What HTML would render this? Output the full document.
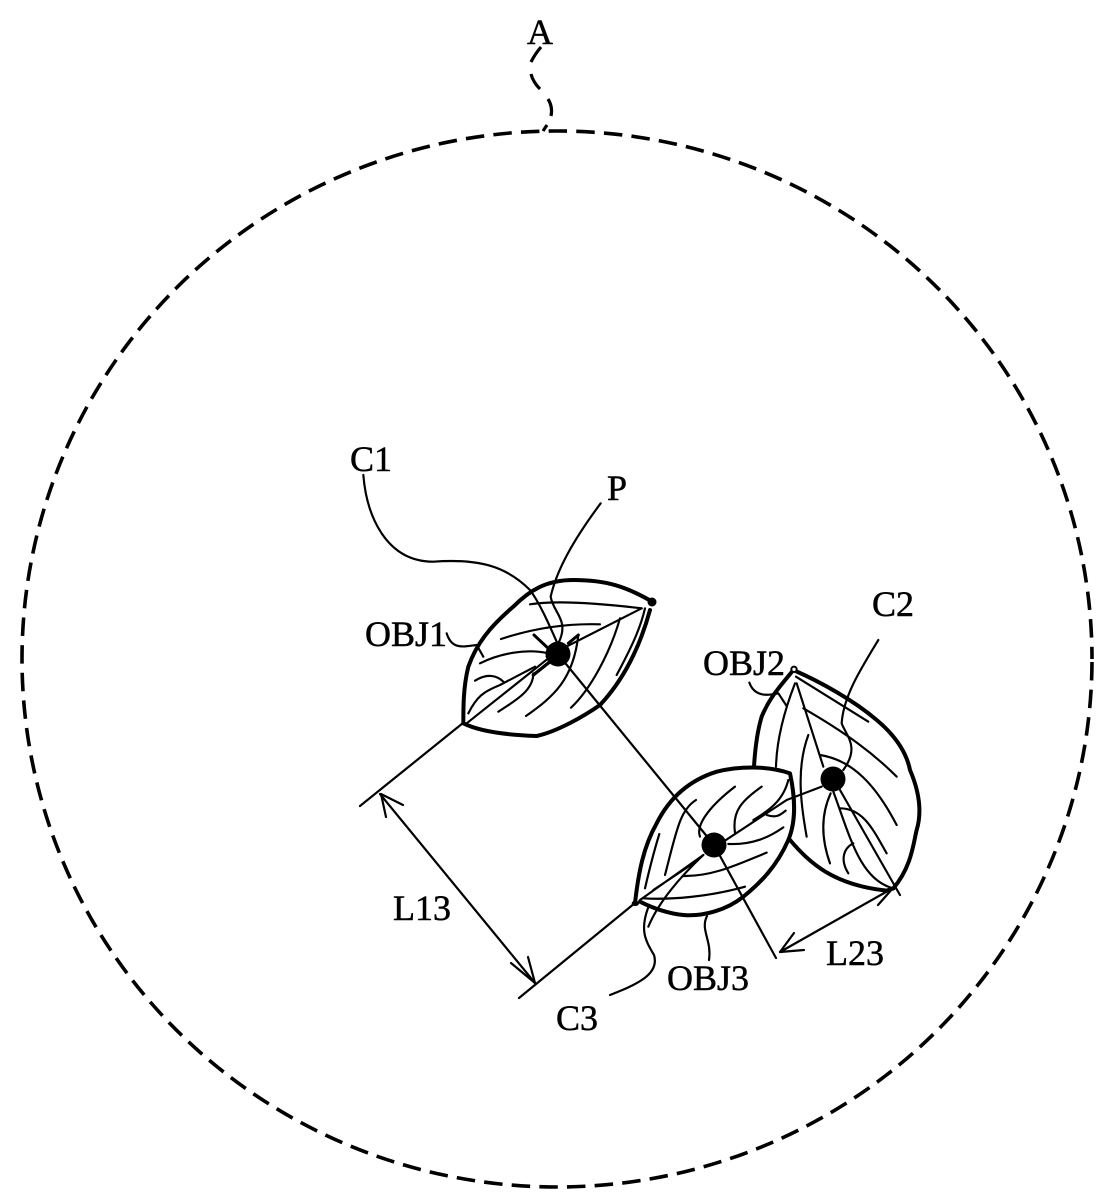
<!DOCTYPE html>
<html>
<head>
<meta charset="utf-8">
<style>
html,body{margin:0;padding:0;background:#fff;width:1112px;height:1200px;overflow:hidden}
svg{display:block}
text{font-family:"Liberation Serif",serif;font-size:36px;fill:#000;stroke:#000;stroke-width:.5;text-anchor:middle}
.v{fill:none;stroke:#000;stroke-width:6.5;stroke-linecap:round;stroke-linejoin:round}
.o{fill:none;stroke:#000;stroke-width:12;stroke-linecap:round;stroke-linejoin:round}
.l{fill:none;stroke:#000;stroke-width:2.2;stroke-linecap:round;stroke-linejoin:round}
</style>
</head>
<body>
<svg width="1112" height="1200" viewBox="0 0 1112 1200" xmlns="http://www.w3.org/2000/svg">
<rect width="1112" height="1200" fill="#fff"/>
<ellipse cx="557" cy="659" rx="535" ry="528" fill="none" stroke="#000" stroke-width="3.6" stroke-dasharray="18.5 9.2" stroke-dashoffset="24.7"/>
<g fill="none" stroke="#000" stroke-width="3.2">
<path d="M541 47Q535 54 531 62"/><path d="M531 74Q533 82 540 89"/><path d="M548 99Q553 107 551 116"/><path d="M543 131L547 125"/>
</g>

<g transform="translate(340 440) scale(.33333)">
<path class="o" d="M940 487C860 440 800 420 700 420C620 420 570 450 520 500C450 560 410 610 385 680C370 740 370 800 370 850C420 875 500 885 590 888C650 875 730 830 780 795C850 720 900 620 930 510"/>
<path class="v" d="M905 505L620 650M625 655L380 850"/>
<path class="v" d="M570 493C650 480 780 490 905 505"/>
<path class="v" d="M483 597C580 565 680 550 780 553"/>
<path class="v" d="M420 670C480 640 560 625 625 640"/>
<path class="v" d="M405 722C440 700 470 705 490 725"/>
<path class="v" d="M385 820C410 770 430 755 480 735L585 680"/>
<path class="v" d="M475 815C530 780 580 750 580 700"/>
<path class="v" style="stroke-width:10" d="M580 705L630 665"/>
<path class="v" d="M558 828C640 770 700 720 715 585"/>
<path class="v" d="M693 803C750 750 810 640 840 535"/>
<path class="v" d="M830 705C870 630 900 570 915 505"/>
<path class="v" style="stroke-width:9" d="M582 585L630 630M715 585L685 610"/>
<path class="v" d="M70 105C80 230 140 365 280 365C420 355 500 380 570 450C600 490 630 560 650 605"/>
<path class="v" d="M782 190C700 300 650 390 632 470C640 520 690 540 655 610"/>
<path class="v" d="M320 580C335 630 370 620 410 615L430 650"/>
</g>

<g transform="translate(620 640) scale(.33333)">
<path class="o" d="M520 90C480 140 450 170 425 230C410 280 405 330 402 380"/>
<path class="o" d="M520 90C600 125 700 180 770 240C830 290 860 340 870 390C900 460 905 520 890 570C880 610 875 680 820 745"/>
<path class="o" d="M510 600C570 670 640 735 800 752L820 745"/>
<path class="o" d="M45 790C55 700 70 620 110 550C150 470 210 420 290 395C350 380 440 375 510 400C525 470 530 540 505 600C470 680 420 730 370 770C320 810 250 830 190 825C140 820 100 805 60 785"/>
<path class="v" d="M70 775C150 780 270 770 375 740"/>
<path class="v" d="M190 708C280 710 360 670 440 638"/>
<path class="v" d="M325 612C400 615 450 590 490 562"/>
<path class="v" d="M345 578C335 510 370 480 425 440"/>
<path class="v" d="M240 590C225 550 280 490 345 440"/>
<path class="v" d="M135 705C170 570 180 510 228 480"/>
<path class="v" d="M75 745C90 680 100 640 118 582"/>
<path class="v" d="M60 780L250 645M100 750L220 670"/>
<path class="v" d="M85 860C110 800 160 730 250 645"/>
<path class="v" d="M280 625L500 480L605 440"/>
<path class="v" d="M400 540C450 510 490 480 505 420"/>
<path class="v" d="M440 525C470 535 480 525 497 512"/>
<path class="v" d="M528 110L745 245"/>
<path class="v" d="M530 130L610 380"/>
<path class="v" d="M550 205C680 280 760 340 830 410"/>
<path class="v" d="M600 345C700 360 770 440 830 555"/>
<path class="v" d="M525 130C490 220 470 300 468 380"/>
<path class="v" d="M565 285C530 380 540 480 560 590"/>
<path class="v" d="M632 460C600 530 605 600 630 670"/>
<path class="v" d="M640 455C690 590 720 720 820 745"/>
<path class="v" d="M660 505C730 505 760 570 800 640"/>
<path class="v" d="M685 700C660 660 670 625 700 610"/>
<path class="v" d="M660 450L840 765"/>
<path class="v" d="M775 0C720 90 670 170 665 250C680 290 720 320 670 390"/>
<path class="v" d="M388 128C405 175 450 165 475 160L500 198"/>
<circle cx="522" cy="88" r="8" fill="#fff" stroke="#000" stroke-width="6"/>
<ellipse cx="46" cy="790" rx="11" ry="8" fill="#000"/>
</g>

<circle cx="652" cy="602" r="4.5" fill="#000"/>
<circle cx="558" cy="654" r="12.5" fill="#000"/>
<circle cx="833" cy="779" r="12.5" fill="#000"/>
<circle cx="714" cy="845" r="12.5" fill="#000"/>

<g class="l">
<path d="M360 806L463 723"/>
<path d="M519 998L635 903"/>
<path d="M380 794L535 983"/>
<path d="M403 805L381 794L386 817"/>
<path d="M511 963L535 983L528 957"/>
<path d="M780 952L893 888"/>
<path d="M804 950L780 952L794 933"/>
<path d="M893 888L878 905"/>
<path d="M566 664L714 845L776 958"/>
<path d="M648 908C640 930 645 940 654 955C660 975 635 985 610 995"/>
<path d="M707 916C700 930 712 940 709 960"/>
</g>

<text x="540" y="44">A</text>
<text x="371" y="471">C1</text>
<text x="617" y="500">P</text>
<text x="406" y="646">OBJ1</text>
<text x="744" y="675">OBJ2</text>
<text x="893" y="616">C2</text>
<text x="422" y="920">L13</text>
<text x="855" y="965">L23</text>
<text x="708" y="990">OBJ3</text>
<text x="577" y="1030">C3</text>
</svg>
</body>
</html>
